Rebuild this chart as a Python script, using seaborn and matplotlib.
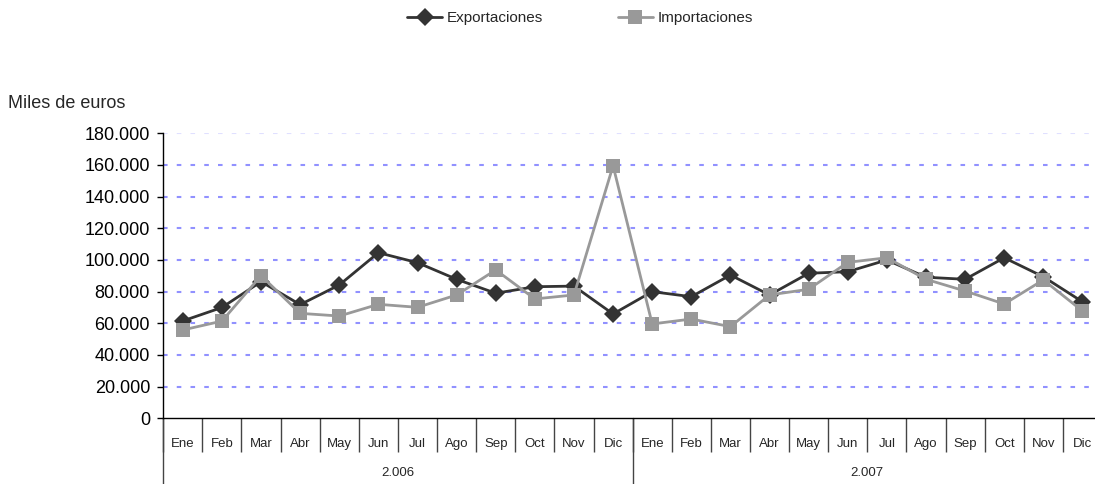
import matplotlib
matplotlib.use("Agg")
import matplotlib.pyplot as plt
import matplotlib.ticker as mticker
import pandas as pd
import seaborn as sns

# Monthly trade values (thousands of euros), Jan 2006 - Dec 2007
meses = ["Ene", "Feb", "Mar", "Abr", "May", "Jun",
         "Jul", "Ago", "Sep", "Oct", "Nov", "Dic"]
anios = ["2.006", "2.007"]
exportaciones = [61500, 70000, 86300, 71800, 84200, 104600, 98300, 87800, 79000, 83100, 83500, 65900,
                 80000, 76800, 90500, 77900, 91600, 92600, 100000, 89100, 87800, 101400, 89400, 73600]
importaciones = [55800, 61400, 90100, 66300, 64600, 72000, 70100, 77900, 93700, 75400, 77900, 159500,
                 59600, 62700, 57900, 77900, 81500, 98500, 101400, 87800, 80400, 72200, 87400, 67800]
series = ["Exportaciones", "Importaciones"]
colores = {"Exportaciones": "#333333", "Importaciones": "#999999"}
marcadores = {"Exportaciones": "D", "Importaciones": "s"}

etiquetas = meses * len(anios)
n = len(etiquetas)
df = pd.DataFrame({
    "pos": list(range(n)) * 2,
    "valor": exportaciones + importaciones,
    "serie": [series[0]] * n + [series[1]] * n,
})

sns.set_style("white")
plt.rcParams["font.family"] = ["Liberation Sans", "DejaVu Sans"]

fig = plt.figure(figsize=(10.95, 4.84), dpi=100)
ax = fig.add_axes([0.1491, 0.1357, 0.8573, 0.5889])

# dashed horizontal gridlines
for v in range(20000, 180001, 20000):
    ax.axhline(v, color="#8585ff", lw=1.5, ls=(0, (2.2, 4.4)),
               alpha=0.25 if v == 180000 else 0.9, zorder=0)

sns.lineplot(data=df, x="pos", y="valor", hue="serie", style="serie",
             hue_order=series, style_order=series, palette=colores,
             markers=marcadores, dashes=False, markersize=9.5,
             markeredgewidth=0, linewidth=2.0, ax=ax, legend=False)

ax.set_xlim(-0.5, n - 0.5)
ax.set_ylim(0, 180000)
ax.set_xlabel("")
ax.set_ylabel("")

for s in ["top", "right"]:
    ax.spines[s].set_visible(False)
for s in ["left", "bottom"]:
    ax.spines[s].set_color("black")
    ax.spines[s].set_linewidth(1.0)

ax.yaxis.set_major_locator(mticker.MultipleLocator(20000))
ax.yaxis.set_major_formatter(mticker.FuncFormatter(
    lambda v, p: f"{int(v):,}".replace(",", ".")))
ax.tick_params(axis="y", direction="out", length=4, width=1, color="black",
               pad=5.5, labelsize=13, labelcolor="black", left=True)

# month labels and separators
ax.set_xticks(range(n))
ax.set_xticklabels(etiquetas, fontsize=9.5)
ax.set_xticks([i - 0.5 for i in range(n + 1)], minor=True)
ax.tick_params(axis="x", which="major", length=0, pad=14.5)
ax.tick_params(axis="x", which="minor", direction="out", length=24.5,
               width=1.0, color="#444444", bottom=True)
# longer year separators
for i in range(len(anios) + 1):
    ax.axvline(i * 12 - 0.5, ymin=-0.23, ymax=0, color="#444444", lw=1.0,
               clip_on=False)

for i, a in enumerate(anios):
    ax.text(i * 12 + 5.5, -0.191, a, transform=ax.get_xaxis_transform(),
            ha="center", va="center", fontsize=9.5)

fig.text(8 / 1095, 1 - 103 / 484, "Miles de euros", ha="left", va="center",
         fontsize=13)

# legend
handles = [plt.Line2D([], [], color=colores[s], marker=marcadores[s], lw=2.0,
                      markersize=9 if s == "Exportaciones" else 10,
                      markeredgewidth=0) for s in series]
fig.legend(handles, series, loc="center", bbox_to_anchor=(580 / 1095, 1 - 18 / 484),
           ncol=2, frameon=False, handlelength=2.3, handletextpad=0.3,
           columnspacing=4.9, prop={"size": 11})

fig.savefig("out.png", dpi=100)
